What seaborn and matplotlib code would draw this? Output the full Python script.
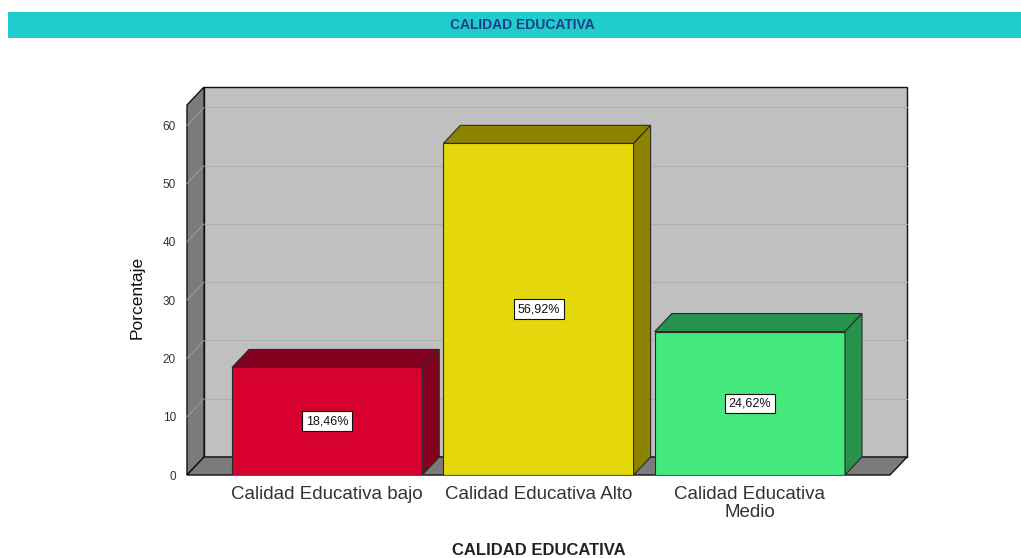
import matplotlib
matplotlib.use("Agg")
import matplotlib.pyplot as plt
from matplotlib.patches import Rectangle, Polygon
import seaborn as sns
import pandas as pd

# datos del grafico
categorias = ["Calidad Educativa bajo", "Calidad Educativa Alto", "Calidad Educativa\nMedio"]
porcentajes = [18.46, 56.92, 24.62]
etiquetas = ["18,46%", "56,92%", "24,62%"]
colores_frente = ["#d7002f", "#e4d80c", "#44e87c"]
colores_sombra = ["#86001f", "#8d8300", "#27924b"]
y_ticks = [0, 10, 20, 30, 40, 50, 60]

sns.set_style("white")
plt.rcParams["font.family"] = ["Liberation Sans", "DejaVu Sans"]

fig = plt.figure(figsize=(10.21, 5.58), dpi=100)
ax = fig.add_axes([187 / 1021, 83 / 558, 703 / 1021, 370 / 558])

df = pd.DataFrame({"cat": categorias, "pct": porcentajes})
sns.barplot(data=df, x="cat", y="pct", hue="cat", palette=colores_frente,
            width=0.9, saturation=1, edgecolor="#2a2a2a", linewidth=0.8,
            legend=False, ax=ax, zorder=3)
barras = list(ax.patches)

ax.set_xlim(-0.663, 2.663)
ax.set_ylim(0, 63.5)
x0, x1 = ax.get_xlim()
y0, y1 = ax.get_ylim()

# profundidad "3D" en pixeles -> unidades de datos
p0 = ax.transData.transform((0, 0))
p1 = ax.transData.transform((1, 1))
ddx = 17 / (p1[0] - p0[0])
ddy = 18 / (p1[1] - p0[1])

# pared de fondo, pared izquierda y piso
ax.add_patch(Rectangle((x0 + ddx, y0 + ddy), x1 - x0, y1 - y0, fc="#c0c0c0",
                       ec="#111111", lw=1, clip_on=False, zorder=0.5))
for t in y_ticks[1:]:
    ax.plot([x0 + ddx, x1 + ddx], [t + ddy, t + ddy], color="#afafaf", lw=0.8,
            clip_on=False, zorder=0.55)
ax.add_patch(Polygon([(x0, y0), (x0 + ddx, y0 + ddy), (x0 + ddx, y1 + ddy), (x0, y1)],
                     closed=True, fc="#7b7b7b", ec="#111111", lw=1, clip_on=False, zorder=0.6))
ax.add_patch(Polygon([(x0, y0), (x1, y0), (x1 + ddx, y0 + ddy), (x0 + ddx, y0 + ddy)],
                     closed=True, fc="#7b7b7b", ec="#111111", lw=1, clip_on=False, zorder=0.6))
for t in y_ticks[1:]:
    ax.plot([x0, x0 + ddx], [t, t + ddy], color="#9a9a9a", lw=0.8,
            clip_on=False, zorder=0.7)

# caras superior y lateral de cada barra + etiquetas
for patch, sombra, lab in zip(barras, colores_sombra, etiquetas):
    bx = patch.get_x()
    bw = patch.get_width()
    bh = patch.get_height()
    top = Polygon([(bx, bh), (bx + bw, bh), (bx + bw + ddx, bh + ddy), (bx + ddx, bh + ddy)],
                  closed=True, fc=sombra, ec="#2a2a2a", lw=0.8, clip_on=False, zorder=3)
    side = Polygon([(bx + bw, 0), (bx + bw + ddx, ddy), (bx + bw + ddx, bh + ddy), (bx + bw, bh)],
                   closed=True, fc=sombra, ec="#2a2a2a", lw=0.8, clip_on=False, zorder=3)
    ax.add_patch(top)
    ax.add_patch(side)
    ax.text(bx + bw / 2, bh / 2, lab, ha="center", va="center", fontsize=9,
            color="#111111", zorder=5,
            bbox=dict(boxstyle="square,pad=0.3", fc="white", ec="#111111", lw=0.8))

ax.set_yticks(y_ticks)
ax.tick_params(axis="y", length=0, pad=8, labelsize=8.5, labelcolor="#333333")
ax.tick_params(axis="x", length=0, pad=8, labelsize=13.5, labelcolor="#333333")
for lbl in ax.get_xticklabels():
    lbl.set_linespacing(1.1)
for s in ax.spines.values():
    s.set_visible(False)

ax.set_ylabel("Porcentaje", fontsize=12.5, color="#111111")
ax.yaxis.set_label_coords(-0.071, 0.481)
ax.yaxis.label.set_va("center")
ax.set_xlabel("CALIDAD EDUCATIVA", fontsize=12, fontweight="bold", color="#222222")
ax.xaxis.set_label_coords(0.5, -0.203)
ax.xaxis.label.set_va("center")

# banda del titulo
fig.add_artist(Rectangle((8 / 1021, 520 / 558), 1013 / 1021, 26 / 558,
                         transform=fig.transFigure, fc="#21cccc", ec="none"))
fig.text(522 / 1021, 533 / 558, "CALIDAD EDUCATIVA", ha="center", va="center",
         fontsize=10, fontweight="bold", color="#1d3f8a")

fig.savefig("out.png", dpi=100)
